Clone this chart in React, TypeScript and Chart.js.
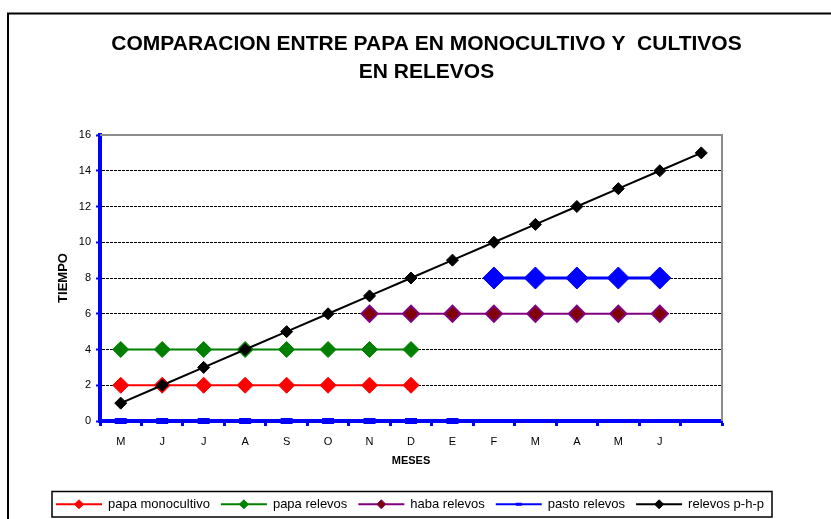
import React, { useEffect, useRef } from 'react';
import { Chart, registerables } from 'chart.js';

Chart.register(...registerables);

// ---- Data ----
const months = ['M', 'J', 'J', 'A', 'S', 'O', 'N', 'D', 'E', 'F', 'M', 'A', 'M', 'J', ''];
const papaMonocultivo = [2, 2, 2, 2, 2, 2, 2, 2, null, null, null, null, null, null, null];
const papaRelevos = [4, 4, 4, 4, 4, 4, 4, 4, null, null, null, null, null, null, null];
const habaRelevos = [null, null, null, null, null, null, 6, 6, 6, 6, 6, 6, 6, 6, null];
const pastoRelevos = [0, 0, 0, 0, 0, 0, 0, 0, 0, null, null, null, null, null, null];
const pastoRelevosFJ = [null, null, null, null, null, null, null, null, null, 8, 8, 8, 8, 8, null];
const relevosPHP = [1, 2, 3, 4, 5, 6, 7, 8, 9, 10, 11, 12, 13, 14, 15];
const yMin = 0;
const yMax = 16;
const yStep = 2;
const titleLines = ['COMPARACION ENTRE PAPA EN MONOCULTIVO Y  CULTIVOS', 'EN RELEVOS'];
const xTitle = 'MESES';
const yTitle = 'TIEMPO';

const FONT = '"Liberation Sans", Arial, sans-serif';

const framePlugin = {
  id: 'frame',
  beforeDraw(chart: any) {
    const ctx = chart.ctx;
    ctx.save();
    ctx.fillStyle = '#ffffff';
    ctx.fillRect(0, 0, chart.width, chart.height);
    ctx.strokeStyle = '#000000';
    ctx.lineWidth = 2;
    ctx.strokeRect(8, 13.5, 900, 700);
    ctx.restore();
  },
};

const plotBorderPlugin = {
  id: 'plotBorder',
  beforeDatasetsDraw(chart: any) {
    const { ctx, chartArea } = chart;
    ctx.save();
    ctx.strokeStyle = '#8c8c8c';
    ctx.lineWidth = 2;
    ctx.beginPath();
    ctx.moveTo(chartArea.left, chartArea.top);
    ctx.lineTo(chartArea.right, chartArea.top);
    ctx.lineTo(chartArea.right, chartArea.bottom);
    ctx.stroke();
    ctx.restore();
  },
};

const titlePlugin = {
  id: 'customTitle',
  afterDraw(chart: any) {
    const ctx = chart.ctx;
    ctx.save();
    ctx.fillStyle = '#000';
    ctx.font = `bold 21px ${FONT}`;
    ctx.textAlign = 'center';
    ctx.textBaseline = 'alphabetic';
    titleLines.forEach((t, i) => ctx.fillText(t, 426.5, 50 + i * 28));
    ctx.restore();
  },
};

function drawDiamond(ctx: any, x: number, y: number, r: number, fill: string, stroke: string, bw: number) {
  ctx.beginPath();
  ctx.moveTo(x - r, y);
  ctx.lineTo(x, y - r);
  ctx.lineTo(x + r, y);
  ctx.lineTo(x, y + r);
  ctx.closePath();
  ctx.fillStyle = fill;
  ctx.fill();
  if (bw > 0) {
    ctx.lineWidth = bw;
    ctx.strokeStyle = stroke;
    ctx.stroke();
  }
}

const legendPlugin = {
  id: 'customLegend',
  afterDraw(chart: any) {
    const ctx = chart.ctx;
    const boxL = 52, boxT = 491.5, boxR = 772, boxB = 517;
    const cy = (boxT + boxB) / 2;
    ctx.save();
    ctx.fillStyle = '#fff';
    ctx.fillRect(boxL, boxT, boxR - boxL, boxB - boxT);
    ctx.strokeStyle = '#000';
    ctx.lineWidth = 1.5;
    ctx.strokeRect(boxL, boxT, boxR - boxL, boxB - boxT);
    ctx.font = `13px ${FONT}`;
    ctx.textBaseline = 'middle';
    ctx.textAlign = 'left';
    let x = 56;
    const lineLen = 46;
    chart.data.datasets.forEach((ds: any) => {
      if (ds.hideInLegend) return;
      ctx.strokeStyle = ds.borderColor;
      ctx.lineWidth = 2;
      ctx.beginPath();
      ctx.moveTo(x, cy);
      ctx.lineTo(x + lineLen, cy);
      ctx.stroke();
      const mx = x + lineLen / 2;
      if (ds.pointStyle === 'line') {
        ctx.strokeStyle = ds.pointBorderColor;
        ctx.lineWidth = 3;
        ctx.beginPath();
        ctx.moveTo(mx - 3, cy);
        ctx.lineTo(mx + 3, cy);
        ctx.stroke();
      } else {
        drawDiamond(ctx, mx, cy, 4.5, ds.pointBackgroundColor, ds.pointBorderColor, 1);
      }
      ctx.fillStyle = '#000';
      const tx = x + lineLen + 6;
      ctx.fillText(ds.label, tx, cy + 0.5);
      x = tx + ctx.measureText(ds.label).width + 11;
    });
    ctx.restore();
  },
};

export default function App() {
  const canvasRef = useRef<HTMLCanvasElement | null>(null);

  useEffect(() => {
    if (!canvasRef.current) return;
    Chart.defaults.font.family = FONT;
    Chart.defaults.color = '#000';
    const chart = new Chart(canvasRef.current, {
      type: 'line',
      data: {
        labels: months,
        datasets: [
          {
            label: 'papa monocultivo',
            data: papaMonocultivo,
            borderColor: '#ff0000',
            backgroundColor: '#ff0000',
            borderWidth: 2,
            pointStyle: 'rectRot',
            pointRadius: 8,
            pointBackgroundColor: '#ff0000',
            pointBorderColor: '#ff0000',
            pointBorderWidth: 1,
            order: 5,
          },
          {
            label: 'papa relevos',
            data: papaRelevos,
            borderColor: '#008000',
            backgroundColor: '#008000',
            borderWidth: 2,
            pointStyle: 'rectRot',
            pointRadius: 8,
            pointBackgroundColor: '#008000',
            pointBorderColor: '#008000',
            pointBorderWidth: 1,
            order: 4,
          },
          {
            label: 'haba relevos',
            data: habaRelevos,
            borderColor: '#800080',
            backgroundColor: '#800000',
            borderWidth: 2,
            pointStyle: 'rectRot',
            pointRadius: 8,
            pointBackgroundColor: '#800000',
            pointBorderColor: '#800080',
            pointBorderWidth: 2,
            order: 3,
          },
          {
            label: 'pasto relevos',
            data: pastoRelevos,
            borderColor: '#0000ff',
            backgroundColor: '#0000ff',
            borderWidth: 2,
            pointStyle: 'line',
            pointRadius: 6,
            pointBackgroundColor: '#0000ff',
            pointBorderColor: '#0000ff',
            pointBorderWidth: 6,
            clip: false,
            order: 2,
          },
          {
            label: 'pasto relevos (F-J)',
            data: pastoRelevosFJ,
            hideInLegend: true,
            borderColor: '#0000ff',
            backgroundColor: '#0000ff',
            borderWidth: 3,
            pointStyle: 'rectRot',
            pointRadius: 11,
            pointBackgroundColor: '#0000ff',
            pointBorderColor: '#0000ff',
            pointBorderWidth: 1,
            order: 1,
          },
          {
            label: 'relevos p-h-p',
            data: relevosPHP,
            borderColor: '#000000',
            backgroundColor: '#000000',
            borderWidth: 2,
            pointStyle: 'rectRot',
            pointRadius: 6,
            pointBackgroundColor: '#000000',
            pointBorderColor: '#000000',
            pointBorderWidth: 1,
            order: 0,
          },
        ] as any,
      },
      options: {
        responsive: false,
        animation: false,
        events: [],
        layout: { padding: { left: 50, right: 109, top: 135, bottom: 50 } },
        plugins: {
          legend: { display: false },
          title: { display: false },
          tooltip: { enabled: false },
        },
        scales: {
          x: {
            type: 'category',
            offset: true,
            grid: {
              offset: true,
              drawOnChartArea: false,
              drawTicks: true,
              tickLength: 5,
              tickColor: '#0000ff',
              tickWidth: 3,
              tickBorderDash: [],
            },
            border: { display: true, color: '#0000ff', width: 4 },
            ticks: {
              font: { size: 11 },
              color: '#000',
              padding: 9,
              maxRotation: 0,
              autoSkip: false,
            },
            title: {
              display: true,
              text: xTitle,
              font: { size: 11, weight: 'bold' },
              padding: { top: 0, bottom: 1 },
            },
            afterFit: (s: any) => {
              s.height = 48;
            },
          },
          y: {
            min: yMin,
            max: yMax,
            ticks: { stepSize: yStep, font: { size: 11 }, color: '#000', padding: 5 },
            grid: {
              color: (c: any) => (c.tick && (c.tick.value === yMin || c.tick.value === yMax) ? 'rgba(0,0,0,0)' : '#000'),
              lineWidth: 1,
              drawTicks: true,
              tickLength: 4,
              tickColor: '#0000ff',
              tickWidth: 2,
              tickBorderDash: [],
            },
            border: { display: true, color: '#0000ff', width: 4, dash: [3, 1] },
            title: {
              display: true,
              text: yTitle,
              font: { size: 13, weight: 'bold' },
              padding: { top: 6, bottom: 0 },
            },
            afterFit: (s: any) => {
              s.width = 50;
            },
          },
        },
      } as any,
      plugins: [framePlugin, plotBorderPlugin, titlePlugin, legendPlugin],
    });
    return () => chart.destroy();
  }, []);

  return (
    <div style={{ position: 'absolute', left: 0, top: 0, width: 831, height: 519, background: '#fff' }}>
      <canvas ref={canvasRef} width={831} height={519} style={{ display: 'block', width: 831, height: 519 }} />
    </div>
  );
}
